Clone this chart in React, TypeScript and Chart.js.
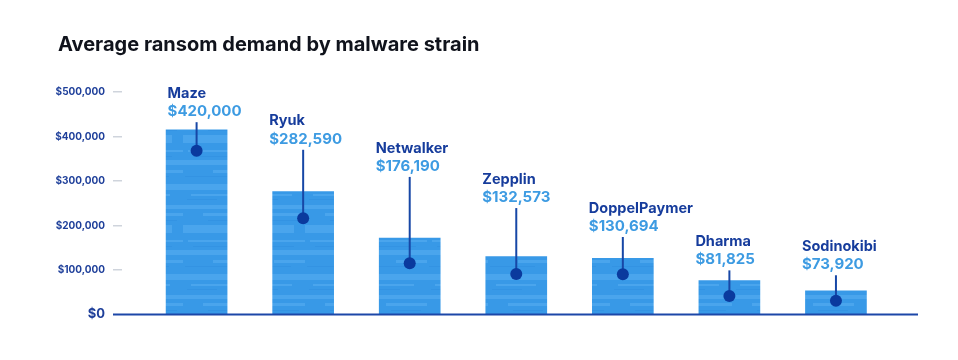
import React, { useEffect, useRef } from "react";
import { Chart, registerables } from "chart.js";

Chart.register(...registerables);

const chartTitle = "Average ransom demand by malware strain";
const strains = ["Maze", "Ryuk", "Netwalker", "Zepplin", "DoppelPaymer", "Dharma", "Sodinokibi"];
const averageDemand = [420000, 282590, 176190, 132573, 130694, 81825, 73920];
const barValues = [415000, 276000, 171500, 130000, 126500, 76000, 53000];
const dotValues = [368000, 216500, 115000, 91000, 90500, 41600, 31000];
const labelValues = [487000, 425000, 364000, 294000, 229000, 154000, 143000];
const yTicks = [0, 100000, 200000, 300000, 400000, 500000];

const FONT = "Inter, 'Noto Sans', sans-serif";

function fmt(v: number) {
  return "$" + v.toLocaleString("en-US");
}

function makePattern(): CanvasPattern | string {
  const c = document.createElement("canvas");
  c.width = 61;
  c.height = 90;
  const g = c.getContext("2d");
  if (!g) return "#3a9ae8";
  g.fillStyle = "#3899e7";
  g.fillRect(0, 0, 61, 90);
  g.fillStyle = "#4aa5ed";
  const streaks = [
    [0, 4, 61, 6],
    [8, 14, 40, 2],
    [0, 25, 61, 4],
    [20, 33, 41, 3],
    [0, 45, 50, 8],
    [5, 60, 56, 2],
    [0, 70, 61, 5],
    [30, 80, 31, 3],
  ];
  streaks.forEach(([x0, y0, w, h]) => {
    g.fillRect(x0, y0, w, h);
  });
  g.fillStyle = "#3393e3";
  const dark = [
    [4, 19, 30, 1],
    [25, 40, 30, 1],
    [10, 66, 40, 1],
    [2, 86, 45, 1],
  ];
  dark.forEach(([x0, y0, w, h]) => g.fillRect(x0, y0, w, h));
  return g.createPattern(c, "repeat") || "#3a9ae8";
}

const calloutPlugin = {
  id: "callouts",
  afterDatasetsDraw(chart: any) {
    const { ctx, chartArea } = chart;
    const x = chart.scales.x;
    const y = chart.scales.y;
    ctx.save();
    const y0 = y.getPixelForValue(0);
    ctx.strokeStyle = "#1c47a8";
    ctx.lineWidth = 2;
    ctx.beginPath();
    ctx.moveTo(chartArea.left - 9, y0);
    ctx.lineTo(chartArea.right, y0);
    ctx.stroke();

    strains.forEach((name, i) => {
      const cx = x.getPixelForValue(i);
      const nameY = y.getPixelForValue(labelValues[i]);
      const valueY = nameY + 18.4;
      const lineTop = valueY + 6;
      const dotY = y.getPixelForValue(dotValues[i]);
      ctx.strokeStyle = "#1747a6";
      ctx.lineWidth = 2;
      ctx.beginPath();
      ctx.moveTo(cx, lineTop);
      ctx.lineTo(cx, dotY);
      ctx.stroke();
      ctx.fillStyle = "#0a3a9e";
      ctx.beginPath();
      ctx.arc(cx, dotY, 6, 0, Math.PI * 2);
      ctx.fill();
      ctx.textAlign = "left";
      ctx.textBaseline = "alphabetic";
      const tx = cx - (i === 0 ? 29 : 34);
      ctx.font = `700 14.5px ${FONT}`;
      ctx.fillStyle = "#163c9c";
      ctx.fillText(name, tx, nameY);
      ctx.font = `700 15px ${FONT}`;
      ctx.fillStyle = "#3d9be2";
      ctx.fillText(fmt(averageDemand[i]), tx, valueY);
    });
    ctx.restore();
  },
  afterDraw(chart: any) {
    const { ctx } = chart;
    ctx.save();
    ctx.font = `700 20px ${FONT}`;
    ctx.fillStyle = "#10131c";
    ctx.textAlign = "left";
    ctx.textBaseline = "alphabetic";
    ctx.fillText(chartTitle, 58, 51);
    ctx.restore();
  },
};

export default function App() {
  const ref = useRef<HTMLCanvasElement | null>(null);
  useEffect(() => {
    if (!ref.current) return;
    const pattern = makePattern();
    const chart = new Chart(ref.current, {
      type: "bar",
      data: {
        datasets: [
          {
            label: "Average ransom demand",
            data: barValues.map((v, i) => ({ x: i, y: v })),
            backgroundColor: pattern as any,
            borderWidth: 0,
            barThickness: 61,
          },
        ],
      },
      options: {
        animation: false,
        responsive: true,
        maintainAspectRatio: false,
        layout: { padding: { top: 92, bottom: 45.5, left: 50, right: 40 } },
        plugins: {
          legend: { display: false },
          tooltip: { enabled: false },
          title: { display: false },
        },
        scales: {
          x: {
            type: "linear",
            min: -0.7,
            max: 6.77,
            offset: false,
            grid: { offset: false },
            display: false,
          },
          y: {
            min: 0,
            max: 500000,
            afterBuildTicks: (scale: any) => {
              scale.ticks = yTicks.map((v) => ({ value: v }));
            },
            afterFit: (scale: any) => {
              scale.width = 72;
            },
            border: { display: false },
            grid: {
              drawOnChartArea: false,
              drawTicks: true,
              tickLength: 9,
              lineWidth: 1.5,
              color: (c: any) => (c.tick && c.tick.value === 0 ? "rgba(0,0,0,0)" : "#cfd4dc"),
            },
            ticks: {
              padding: 8,
              color: "#1e3f9a",
              font: (c: any) =>
                c.tick && c.tick.value === 0
                  ? { family: FONT, size: 13, weight: "bold" }
                  : { family: FONT, size: 10, weight: "bold" },
              callback: (v: any) => fmt(Number(v)),
            },
          },
        },
      },
      plugins: [calloutPlugin],
    });
    return () => chart.destroy();
  }, []);
  return (
    <div style={{ position: "absolute", left: 0, top: 0, width: 958, height: 360, background: "#fff" }}>
      <canvas ref={ref} />
    </div>
  );
}
